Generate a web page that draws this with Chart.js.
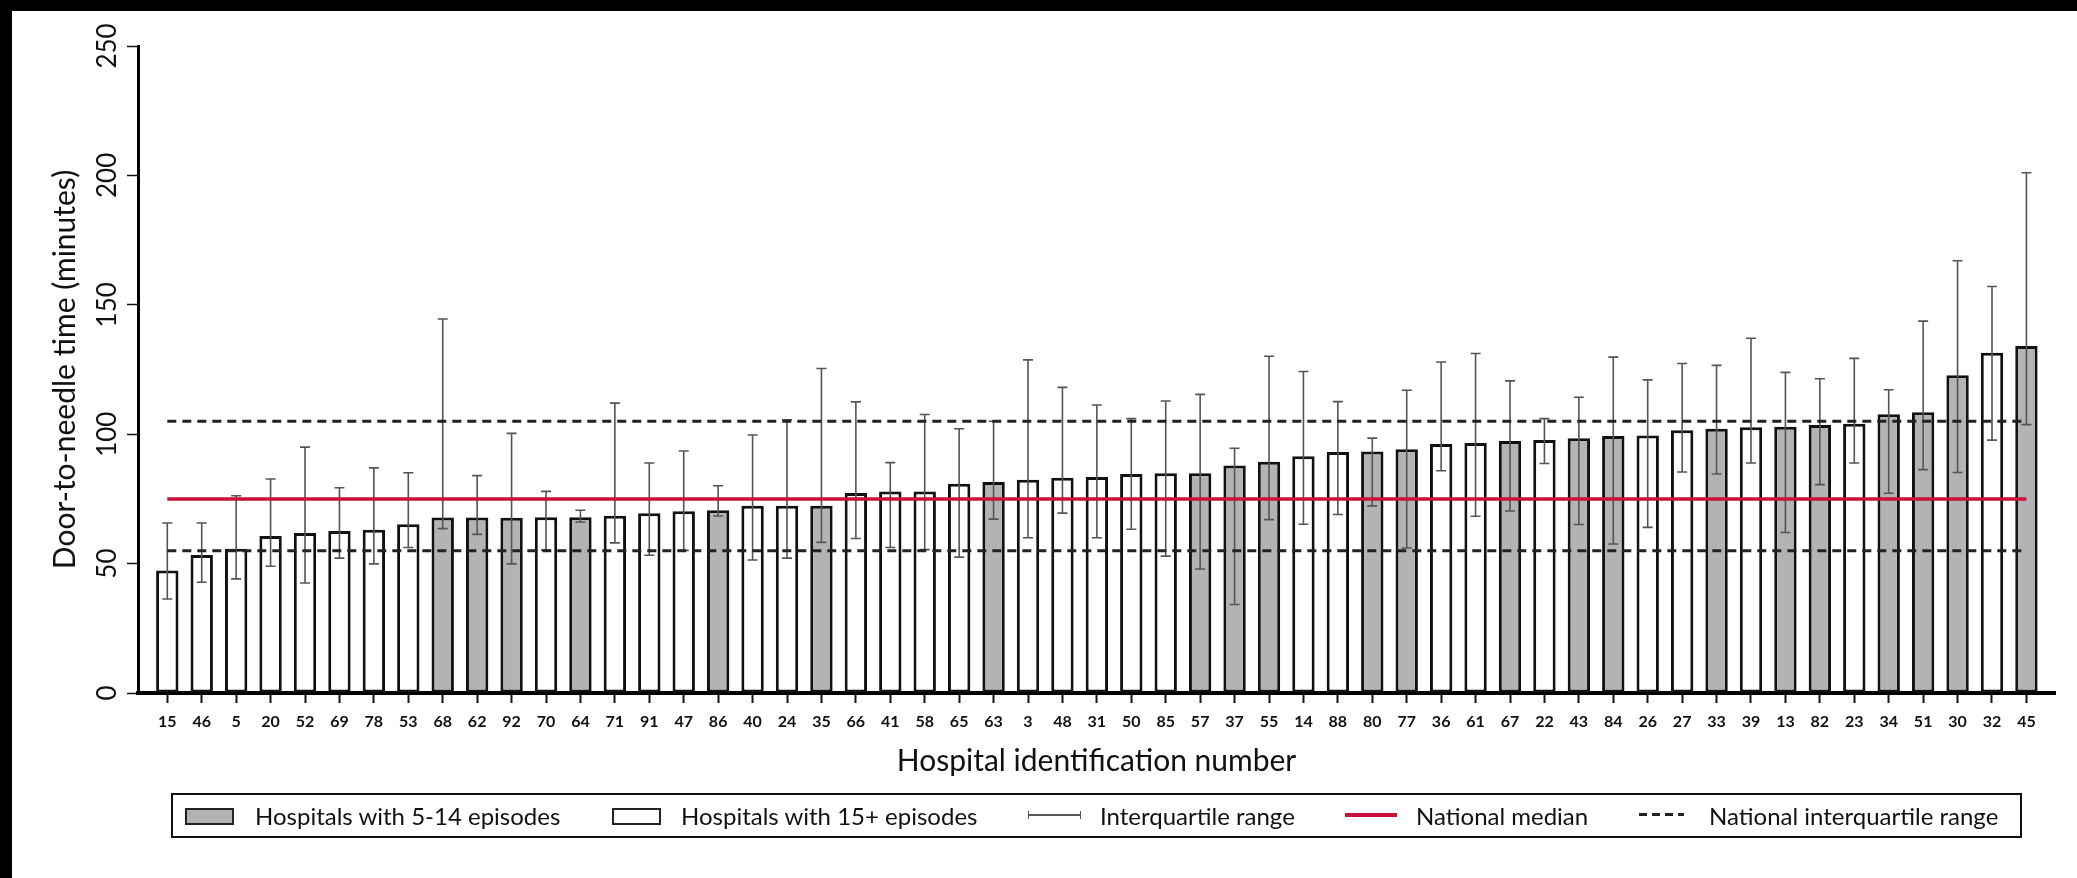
<!DOCTYPE html>
<html>
<head>
<meta charset="utf-8">
<script src="https://cdn.jsdelivr.net/npm/chart.js@4.4.1/dist/chart.umd.min.js"></script>
<style>
  html, body { margin: 0; padding: 0; background: #fff; }
  body { width: 2077px; height: 878px; position: relative; overflow: hidden; font-family: Lato, "Noto Sans", sans-serif; color: #111; }
  #topbar { position: absolute; left: 0; top: 0; width: 2077px; height: 11px; background: #000; }
  #leftbar { position: absolute; left: 0; top: 0; width: 12px; height: 878px; background: #000; }
  #wrap { position: absolute; left: 0; top: 0; width: 2077px; height: 878px; }
  #legend { position: absolute; left: 171px; top: 793px; width: 1851px; height: 45px; box-sizing: border-box; border: 2px solid #111; }
  #legend .txt { position: absolute; top: 0; height: 41px; line-height: 41px; font-size: 24px; white-space: nowrap; }
  #legend .sw { position: absolute; top: 13px; width: 49px; height: 17px; box-sizing: border-box; border: 2px solid #222; }
  #legend .iqr { position: absolute; top: 16px; width: 53px; height: 8px; box-sizing: border-box; border-left: 1.5px solid #555; border-right: 1.5px solid #555; }
  #legend .iqr::after { content: ""; position: absolute; left: 0; right: 0; top: 3px; height: 1.5px; background: #555; }
</style>
</head>
<body>
<div id="topbar"></div>
<div id="leftbar"></div>
<div id="wrap"><canvas id="dtnChart"></canvas></div>
<div id="legend">
  <span class="sw" style="left:12px; background:#b3b3b3"></span>
  <span class="txt" style="left:82px">Hospitals with 5-14 episodes</span>
  <span class="sw" style="left:439px; background:#fff"></span>
  <span class="txt" style="left:508px">Hospitals with 15+ episodes</span>
  <span class="iqr" style="left:855px"></span>
  <span class="txt" style="left:927px">Interquartile range</span>
  <span style="position:absolute; left:1172px; top:18px; width:52px; height:4px; background:#c8103a"></span>
  <span class="txt" style="left:1243px">National median</span>
  <span style="position:absolute; left:1466px; top:18px; width:45px; height:3px; background:repeating-linear-gradient(90deg,#222 0 8px,transparent 8px 13px)"></span>
  <span class="txt" style="left:1536px">National interquartile range</span>
</div>
<script>
// hospitals, sorted by median door-to-needle time
const hospitals = ['15','46','5','20','52','69','78','53','68','62','92','70','64','71','91','47','86','40','24','35',
  '66','41','58','65','63','3','48','31','50','85','57','37','55','14','88','80','77','36','61','67',
  '22','43','84','26','27','33','39','13','82','23','34','51','30','32','45'];

// median door-to-needle time (minutes)
const medianTime = [47.3,53.3,55.7,60.7,61.8,62.6,63.1,65.2,67.8,67.8,67.7,67.9,67.9,68.5,69.5,70.2,70.6,72.4,72.4,72.4,
  77.3,77.9,77.9,80.9,81.5,82.4,83.2,83.5,84.6,84.9,84.9,87.9,89.4,91.5,93.1,93.3,94.2,96.2,96.6,97.4,
  97.8,98.4,99.3,99.5,101.5,102.1,102.7,102.9,103.6,104.0,107.7,108.5,122.8,131.5,134.1];

// interquartile range per hospital
const iqrLow = [36.3,42.8,44.1,49.0,42.5,52.1,49.9,56.2,63.5,61.3,49.9,55.2,66.1,58.0,53.2,55.1,68.4,51.4,52.1,58.2,
  59.7,56.2,55.4,52.5,67.2,60.0,69.5,60.0,63.3,52.9,47.9,34.2,67.0,65.2,69.0,72.3,56.0,85.9,68.3,70.3,
  88.7,65.1,57.6,64.0,85.4,84.6,88.9,62.0,80.5,88.9,77.2,86.3,85.2,97.7,103.7];
const iqrHigh = [65.7,65.7,76.2,82.7,95.0,79.3,87.0,85.1,144.5,84.0,100.3,77.9,70.6,112.0,88.9,93.5,80.1,99.7,105.6,125.4,
  112.5,89.0,107.6,102.1,105.0,128.7,118.1,111.3,106.0,112.8,115.4,94.6,130.1,124.2,112.6,98.5,117.0,127.9,131.2,120.6,
  106.0,114.3,129.8,121.0,127.3,126.6,137.1,123.9,121.4,129.3,117.2,143.7,167.0,157.1,201.0];

// true = hospital with 5-14 episodes (grey), false = 15+ episodes (white)
const smallVolume = [false,false,false,false,false,false,false,false,true,true,true,false,true,false,false,false,true,false,false,true,
  false,false,false,false,true,false,false,false,false,false,true,true,true,false,false,true,true,false,false,true,
  false,true,true,false,false,true,false,true,true,false,true,true,true,false,true];

const nationalMedian = 75;
const nationalQ1 = 55;
const nationalQ3 = 105;
const yTicks = [0, 50, 100, 150, 200, 250];

const lastIdx = hospitals.length - 1;

// error bars for each hospital, drawn right after the bars
const iqrBars = {
  id: 'iqrBars',
  afterDatasetDraw(chart, args) {
    if (args.index !== 0) return;
    const { ctx } = chart;
    const y = chart.scales.y;
    ctx.save();
    ctx.strokeStyle = '#555';
    ctx.lineWidth = 1.6;
    args.meta.data.forEach((bar, i) => {
      const lo = y.getPixelForValue(iqrLow[i]);
      const hi = y.getPixelForValue(iqrHigh[i]);
      ctx.beginPath();
      ctx.moveTo(bar.x, lo); ctx.lineTo(bar.x, hi);
      ctx.moveTo(bar.x - 5, lo); ctx.lineTo(bar.x + 5, lo);
      ctx.moveTo(bar.x - 5, hi); ctx.lineTo(bar.x + 5, hi);
      ctx.stroke();
    });
    ctx.restore();
  }
};

Chart.defaults.font.family = 'Lato, "Noto Sans", sans-serif';
Chart.defaults.color = '#111';

const refLine = v => [{ x: 0, y: v }, { x: lastIdx, y: v }];

new Chart(document.getElementById('dtnChart'), {
  type: 'bar',
  data: {
    datasets: [
      {
        label: 'Median',
        data: medianTime.map((v, i) => ({ x: i, y: v })),
        backgroundColor: smallVolume.map(s => s ? '#b3b3b3' : '#ffffff'),
        borderColor: '#111',
        borderWidth: 3,
        borderSkipped: false,
        categoryPercentage: 1,
        barPercentage: 0.65,
        order: 2
      },
      {
        type: 'line', label: 'National median', data: refLine(nationalMedian),
        borderColor: '#c8103a', borderWidth: 3.5, pointRadius: 0, order: 1
      },
      {
        type: 'line', label: 'Q1', data: refLine(nationalQ1),
        borderColor: '#222', borderWidth: 3, borderDash: [9, 6], pointRadius: 0, order: 1
      },
      {
        type: 'line', label: 'Q3', data: refLine(nationalQ3),
        borderColor: '#222', borderWidth: 3, borderDash: [9, 6], pointRadius: 0, order: 1
      }
    ]
  },
  options: {
    responsive: true,
    maintainAspectRatio: false,
    animation: false,
    events: [],
    layout: { padding: { left: 14, right: 22, top: 46, bottom: 0 } },
    plugins: { legend: { display: false }, tooltip: { enabled: false } },
    scales: {
      x: {
        type: 'linear',
        min: -0.851,
        max: 54.83,
        offset: false,
        afterFit: s => { s.height = 185; },
        afterBuildTicks: s => { s.ticks = s.ticks.filter(t => Number.isInteger(t.value) && t.value >= 0 && t.value <= lastIdx); },
        grid: { offset: false, drawOnChartArea: false, color: '#111', tickLength: 10, tickWidth: 2 },
        border: { color: '#000', width: 4 },
        ticks: {
          stepSize: 1,
          autoSkip: false,
          includeBounds: false,
          maxRotation: 0,
          padding: 9,
          font: { size: 16, weight: 'bold' },
          callback: v => hospitals[v]
        },
        title: {
          display: true,
          text: 'Hospital identification number',
          font: { size: 30 },
          padding: { top: 0, bottom: 99 }
        }
      },
      y: {
        min: 0,
        max: 250,
        afterFit: s => { s.width = 124; },
        afterBuildTicks: s => { s.ticks = yTicks.map(v => ({ value: v })); },
        grid: { drawOnChartArea: false, color: '#111', tickLength: 11, tickWidth: 1.5 },
        border: { color: '#000', width: 3 },
        ticks: {
          minRotation: 90,
          maxRotation: 90,
          crossAlign: 'center',
          padding: -3,
          font: { size: 26 }
        },
        title: {
          display: true,
          text: 'Door-to-needle time (minutes)',
          font: { size: 30 },
          padding: { top: 33, bottom: 0 }
        }
      }
    }
  },
  plugins: [iqrBars]
});
</script>
</body>
</html>
